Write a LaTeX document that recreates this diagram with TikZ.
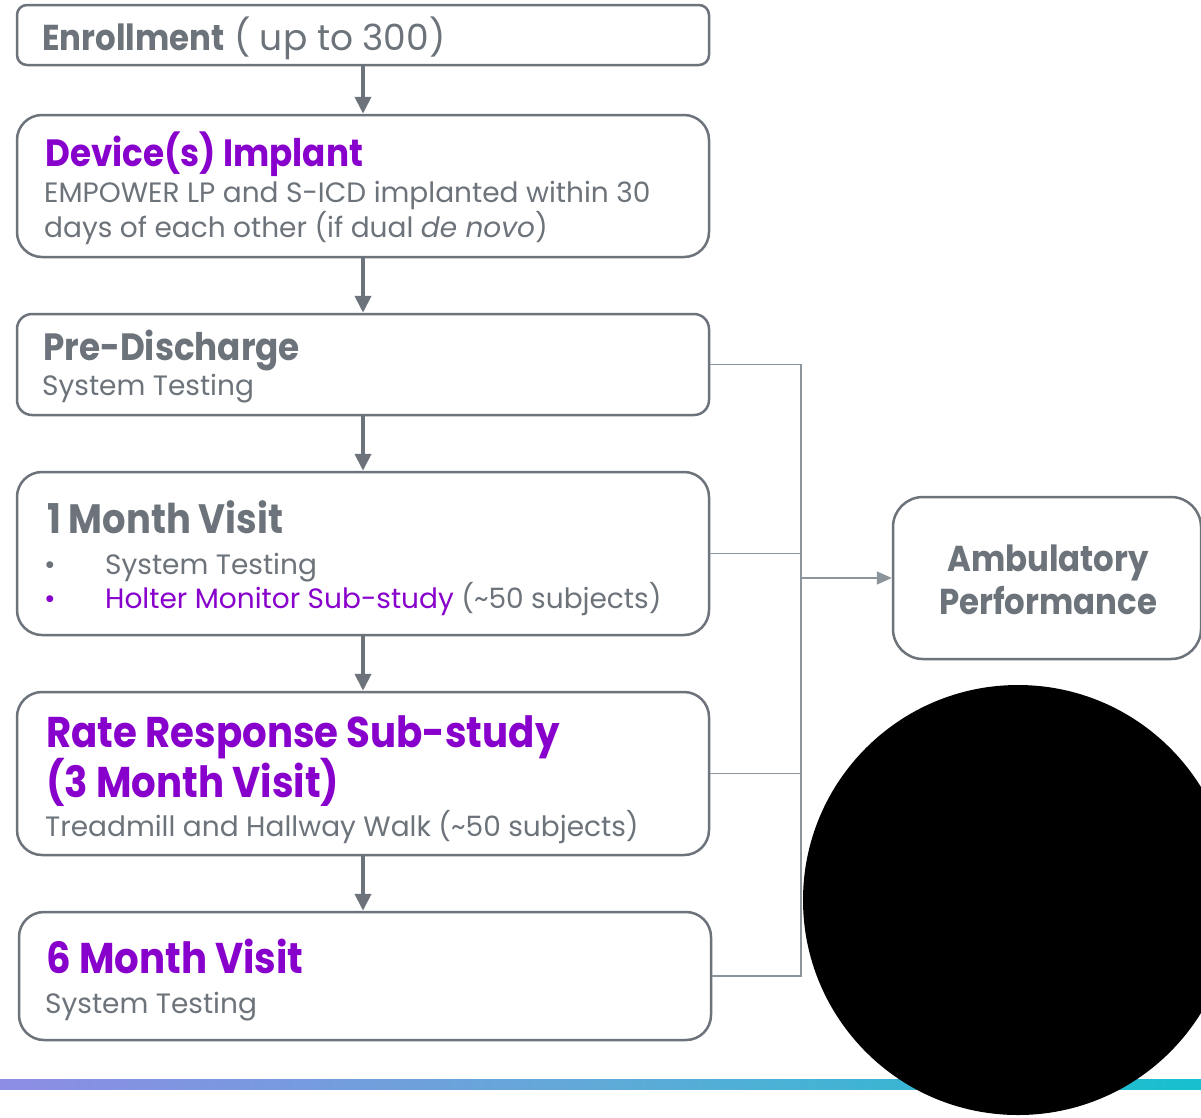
\documentclass[tikz,border=0pt]{standalone}
\usepackage{fontspec}
\setmainfont{Poppins}[BoldFeatures={FakeStretch=0.9}]
\usetikzlibrary{arrows.meta}
\definecolor{tg}{RGB}{108,115,122}
\definecolor{pu}{RGB}{136,0,204}
\definecolor{cl}{RGB}{140,148,156}
\definecolor{gl}{RGB}{140,140,228}
\definecolor{gm}{RGB}{96,170,216}
\definecolor{gr}{RGB}{22,192,206}
\newcommand{\fs}[1]{\fontsize{#1}{#1}\selectfont}
\begin{document}
\begin{tikzpicture}[x=1pt,y=-1pt,
  box/.style={draw=tg, line width=2.5pt, rounded corners=#1, fill=white, inner sep=0pt, rectangle},
  box/.default=25pt,
  flow/.style={draw=tg, line width=4pt, -{Triangle[width=16pt,length=17pt]}},
  link/.style={draw=cl, line width=1.5pt},
  lbl/.style={anchor=base west, inner sep=0pt, text=tg},
  ttl/.style={lbl, font=\bfseries\fs{38}},
  body/.style={lbl, font=\fs{28}}]
\useasboundingbox (0,0) rectangle (1201,1117);
\fill[white] (0,0) rectangle (1201,1117);
% gradient bar
\shade[left color=gl, right color=gr, middle color=gm] (0,1079) rectangle (1201,1089);
% boxes
\node[box=10pt, minimum width=692pt, minimum height=60pt] (enr) at (363,35) {};
\node[box, minimum width=692pt, minimum height=142pt] (dev) at (363,186) {};
\node[box=15pt, minimum width=692pt, minimum height=101pt] (pre) at (363,364.5) {};
\node[box, minimum width=692pt, minimum height=163pt] (mon) at (363,553.5) {};
\node[box, minimum width=692pt, minimum height=163pt] (rate) at (363,773.5) {};
\node[box, minimum width=692pt, minimum height=128pt] (six) at (365,976) {};
\node[box=30pt, minimum width=308pt, minimum height=162pt] (amb) at (1047,578) {};
% flow arrows
\draw[flow] (enr.south) -- (dev.north);
\draw[flow] (dev.south) -- (pre.north);
\draw[flow] (pre.south) -- (mon.north);
\draw[flow] (mon.south) -- (rate.north);
\draw[flow] (rate.south) -- (rate.south |- six.north);
% links to ambulatory
\coordinate (bus) at (801,0);
\draw[link] (pre.east) -- (pre.east -| bus) -- (six.east -| bus) -- (six.east);
\draw[link] (mon.east) -- (mon.east -| bus);
\draw[link] (rate.east) -- (rate.east -| bus);
\draw[link, -{Triangle[width=13pt,length=15pt]}] (amb.west -| bus) -- (amb.west);
% texts
\node[lbl, font=\fs{36}] (t1) at (42,50) {\textbf{Enrollment} ( up to 300)};
\node[ttl, text=pu] (t2) at (45,166) {Device(s) Implant};
\node[body] (t2a) at (44,202) {EMPOWER LP and S-ICD implanted within 30};
\node[body] (t2b) at (44,237) {days of each other (if dual \textit{de novo})};
\node[ttl] (t3) at (43,360) {Pre-Discharge};
\node[body] (t3a) at (42,395) {System Testing};
\node[ttl, font=\bfseries\fs{41}] (t4) at (47,533) {1 Month Visit};
\node[body] (t4b1) at (44,574) {•};
\node[body] (t4a) at (105,574) {System Testing};
\node[body, text=pu] (t4b2) at (44,608) {•};
\node[body] (t4c) at (105,608) {\textcolor{pu}{Holter Monitor Sub-study} (\textasciitilde 50 subjects)};
\node[ttl, text=pu, font=\bfseries\fs{43}] (t5) at (46,747) {Rate Response Sub-study};
\node[ttl, text=pu, font=\bfseries\fs{43}] (t5b) at (46,797) {(3 Month Visit)};
\node[body] (t5c) at (45,836) {Treadmill and Hallway Walk (\textasciitilde 50 subjects)};
\node[ttl, text=pu, font=\bfseries\fs{43}] (t6) at (46,973) {6 Month Visit};
\node[body] (t6a) at (45,1013) {System Testing};
\node[anchor=base, inner sep=0pt, text=tg, font=\bfseries\fs{36}] (ta) at (1048,571) {Ambulatory};
\node[anchor=base, inner sep=0pt, text=tg, font=\bfseries\fs{36}] (tb) at (1048,614) {Performance};
% black disc
\fill[black] (1018,900) circle[radius=215pt];
\end{tikzpicture}
\end{document}
